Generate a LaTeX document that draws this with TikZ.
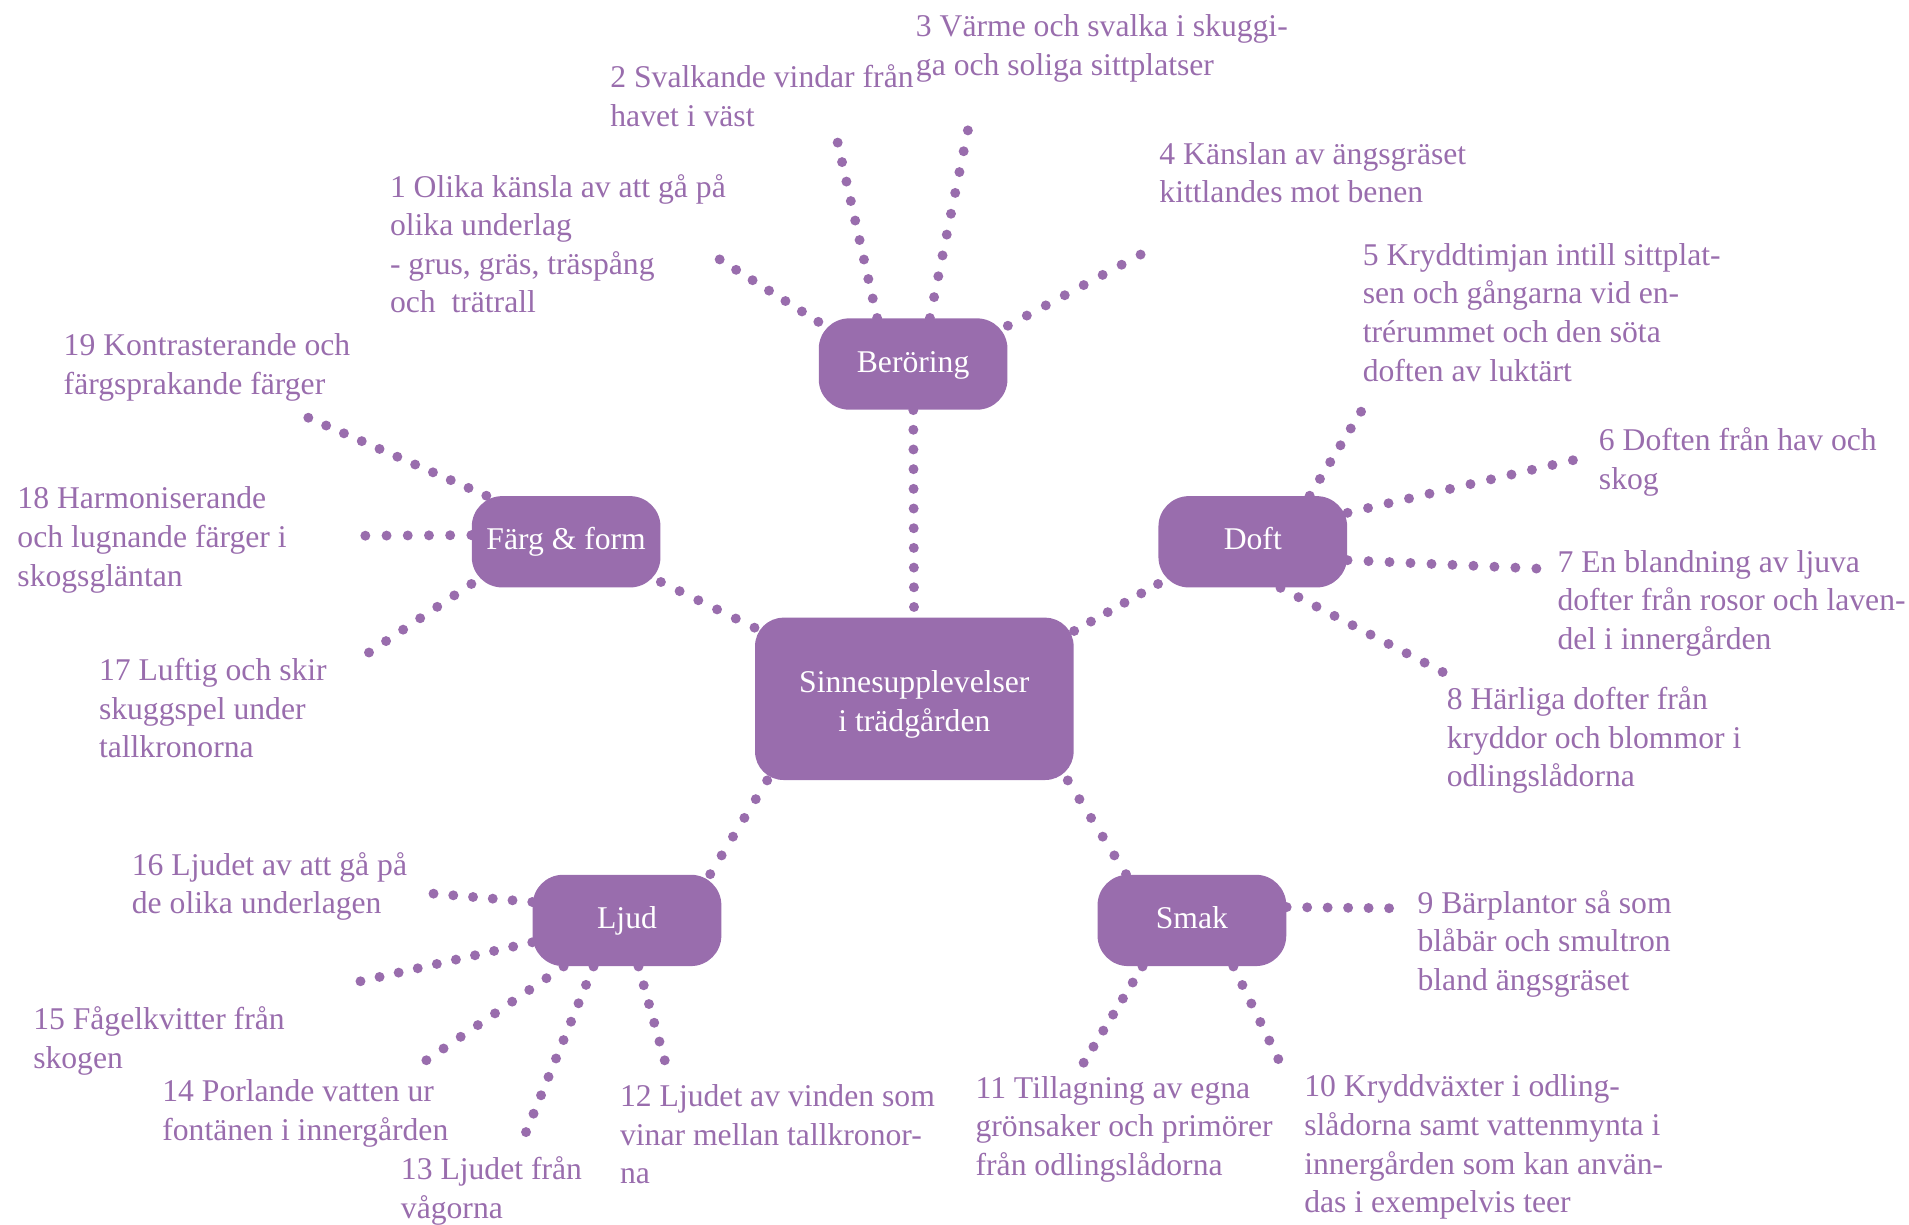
\documentclass[tikz,border=0pt]{standalone}
\usepackage{fontspec}
\setmainfont{Liberation Serif}
\definecolor{lila}{HTML}{996DAD}
\newcommand\lbltext[1]{\begin{tabular}[t]{@{}l@{}}#1\end{tabular}}
% dotted connector whose dot spacing is fitted to its length,
% so that a dot sits on each end
\makeatletter
\newcommand\dotline[2]{%
  \path (#1) coordinate (dlA) (#2) coordinate (dlB);
  \pgfpointdiff{\pgfpointanchor{dlA}{center}}{\pgfpointanchor{dlB}{center}}%
  \pgfmathsetmacro\dlLen{veclen(\pgf@x,\pgf@y)}%
  \pgfmathsetmacro\dlN{max(1,round(\dlLen/10))}%
  \pgfmathsetmacro\dlGap{(\dlLen-0.05)/\dlN}%
  \draw[dots,dash pattern=on 0pt off \dlGap pt] (#1) -- (#2);%
}
\makeatother
\begin{document}
\begin{tikzpicture}[x=0.6pt,y=-0.6pt,
  every node/.style={font=\fontsize{15.6}{19}\selectfont},
  hub/.style={fill=lila,text=white,rounded corners=15pt,inner sep=0pt,
    minimum width=93pt,minimum height=45pt,align=center,
    text height=11.4pt,text depth=3.5pt},
  lbl/.style={text=lila,anchor=base west,inner sep=0pt},
  dots/.style={draw=lila,line width=4.9pt,line cap=round}]
\useasboundingbox (0,0) rectangle (1568,1006);

% hubs
\node[hub,minimum width=157pt,minimum height=80pt,rounded corners=14pt]
  (ctr) at (751,574)
  {\raisebox{-2.4pt}[0pt][0pt]{\begin{tabular}{@{}c@{}}Sinnesupplevelser\\ i trädgården\end{tabular}}};
\node[hub] (ber)  at (750,299)  {Beröring};
\node[hub] (farg) at (465,445)  {Färg \& form};
\node[hub] (doft) at (1029,445) {Doft};
\node[hub] (ljud) at (515,756)  {Ljud};
\node[hub] (smak) at (979,756)  {Smak};

% free ends of the spokes
\coordinate (e1) at (591,213);
\coordinate (e2) at (688,117);
\coordinate (e3) at (795,107);
\coordinate (e4) at (937,209);
\coordinate (e5) at (1118,338);
\coordinate (e6) at (1292,378);
\coordinate (e7) at (1262,467);
\coordinate (e8) at (1185,552);
\coordinate (e9) at (1141,746);
\coordinate (e10) at (1050,870);
\coordinate (e11) at (890,873);
\coordinate (e12) at (546,871);
\coordinate (e13) at (432,930);
\coordinate (e14) at (350,871);
\coordinate (e15) at (296,806);
\coordinate (e16) at (356,734);
\coordinate (e17) at (303,536);
\coordinate (e18) at (300,440);
\coordinate (e19) at (253,343);

% hub to hub
\dotline{ber}{ctr}
\dotline{farg.337}{ctr.156}
\dotline{doft.204}{ctr.23.5}
\dotline{ctr.209}{ljud.29}
\dotline{ctr.332}{smak.145}

% spokes
\dotline{ber.156}{e1}
\dotline{ber.128.6}{e2}
\dotline{ber.70.5}{e3}
\dotline{ber.22}{e4}
\dotline{doft.39}{e5}
\dotline{doft.17.4}{e6}
\dotline{doft.349.4}{e7}
\dotline{doft.301.6}{e8}
\dotline{smak.8}{e9}
\dotline{smak.312}{e10}
\dotline{smak.223}{e11}
\dotline{ljud.284}{e12}
\dotline{ljud.234}{e13}
\dotline{ljud.216.6}{e14}
\dotline{ljud.193.4}{e15}
\dotline{ljud.169.5}{e16}
\dotline{farg.204.7}{e17}
\dotline{farg.176.3}{e18}
\dotline{farg.150.5}{e19}

% labels
\node[lbl] (t1) at (320,162) {\lbltext{1 Olika känsla av att gå på\\olika underlag\\- grus, gräs, träspång\\och \ trätrall}};
\node[lbl] (t2) at (501,72) {\lbltext{2 Svalkande vindar från\\havet i väst}};
\node[lbl] (t3) at (752,30) {\lbltext{3 Värme och svalka i skuggi-\\ga och soliga sittplatser}};
\node[lbl] (t4) at (952,135) {\lbltext{4 Känslan av ängsgräset\\kittlandes mot benen}};
\node[lbl] (t5) at (1119,218) {\lbltext{5 Kryddtimjan intill sittplat-\\sen och gångarna vid en-\\trérummet och den söta\\doften av luktärt}};
\node[lbl] (t6) at (1313,370) {\lbltext{6 Doften från hav och\\skog}};
\node[lbl] (t7) at (1279,470) {\lbltext{7 En blandning av ljuva\\dofter från rosor och laven-\\del i innergården}};
\node[lbl] (t8) at (1188,583) {\lbltext{8 Härliga dofter från\\kryddor och blommor i\\odlingslådorna}};
\node[lbl] (t9) at (1164,750) {\lbltext{9 Bärplantor så som\\blåbär och smultron\\bland ängsgräset}};
\node[lbl] (t10) at (1071,901) {\lbltext{10 Kryddväxter i odling-\\slådorna samt vattenmynta i\\innergården som kan använ-\\das i exempelvis teer}};
\node[lbl] (t11) at (801,902) {\lbltext{11 Tillagning av egna\\grönsaker och primörer\\från odlingslådorna}};
\node[lbl] (t12) at (509,909) {\lbltext{12 Ljudet av vinden som\\vinar mellan tallkronor-\\na}};
\node[lbl] (t13) at (329,969) {\lbltext{13 Ljudet från\\vågorna}};
\node[lbl] (t14) at (133,905) {\lbltext{14 Porlande vatten ur\\fontänen i innergården}};
\node[lbl] (t15) at (27,846) {\lbltext{15 Fågelkvitter från\\skogen}};
\node[lbl] (t16) at (108,719) {\lbltext{16 Ljudet av att gå på\\de olika underlagen}};
\node[lbl] (t17) at (81,559) {\lbltext{17 Luftig och skir\\skuggspel under\\tallkronorna}};
\node[lbl] (t18) at (14,418) {\lbltext{18 Harmoniserande\\och lugnande färger i\\skogsgläntan}};
\node[lbl] (t19) at (52,292) {\lbltext{19 Kontrasterande och\\färgsprakande färger}};
\end{tikzpicture}
\end{document}
